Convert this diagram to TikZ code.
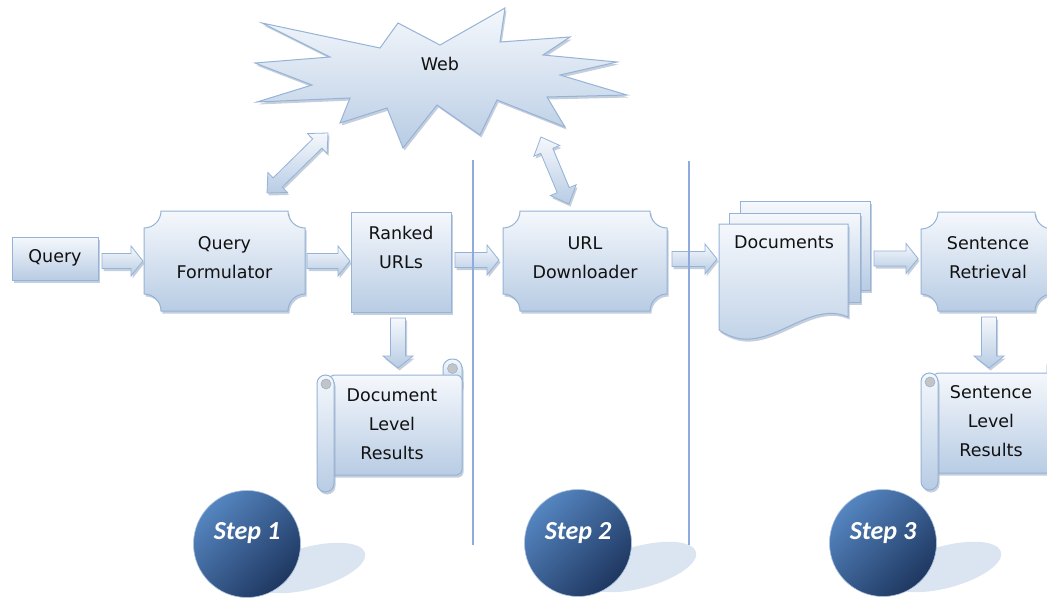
\documentclass[tikz,border=0pt]{standalone}
\usepackage{fontspec}
\setmainfont{DejaVu Sans}
\newfontfamily\stepfont{Carlito}
\usetikzlibrary{calc,shadows}
\definecolor{bxtop}{HTML}{F5F8FC}
\definecolor{bxbot}{HTML}{B8CCE4}
\definecolor{bxline}{HTML}{95B3D7}
\definecolor{shad}{HTML}{9FAEC3}
\definecolor{sepcol}{HTML}{8FAADC}
\definecolor{stepA}{HTML}{5585C0}
\definecolor{stepB}{HTML}{1E3760}
\definecolor{stepsh}{HTML}{DBE5F1}
\definecolor{curlcol}{HTML}{C4C4C4}
\definecolor{txt}{HTML}{111111}
\tikzset{
  frame/.style={rectangle, inner sep=0pt, outer sep=0pt},
  bshadow/.style={drop shadow={shadow xshift=1.5pt, shadow yshift=-2.5pt, fill=shad, opacity=.6}},
  fillbox/.style={draw=bxline, line width=1pt, top color=bxtop, bottom color=bxbot, bshadow},
  arrowbox/.style={draw=bxline, line width=.8pt, top color=bxtop, bottom color=bxbot, bshadow},
  curlst/.style={fill=curlcol, draw=bxline, line width=.6pt},
  lbl/.style={font=\fontsize{17.5}{29}\selectfont, align=center, inner sep=0pt, text=txt},
  ball/.style={circle, minimum size=107pt, inner sep=0pt, draw=stepA!50!white, line width=.6pt, top color=stepA, bottom color=stepB, shading angle=45},
  balllbl/.style={font=\stepfont\bfseries\itshape\fontsize{26}{30}\selectfont, text=white, inner sep=0pt},
  ballshadow/.style={fill=stepsh},
  sepline/.style={draw=sepcol, line width=1.1pt},
}
\newcommand\plaque[1]{%
  \path[fillbox] let \p1=(#1.north west), \p2=(#1.south east) in
    (\x1+17pt,\y1) -- (\x2-17pt,\y1) arc[start angle=180,end angle=270,radius=17pt]
    -- (\x2,\y2+17pt) arc[start angle=90,end angle=180,radius=17pt]
    -- (\x1+17pt,\y2) arc[start angle=0,end angle=90,radius=17pt]
    -- (\x1,\y1-17pt) arc[start angle=270,end angle=360,radius=17pt] -- cycle;}
\newcommand\blockarrow[2]{%
  \coordinate (bah) at ($(#2)!12pt!(#1)$);
  \path[arrowbox] ($(#1)!7.5pt!90:(#2)$) -- ($(bah)!7.5pt!90:(#2)$) -- ($(bah)!15pt!90:(#2)$)
    -- (#2) -- ($(bah)!15pt!-90:(#2)$) -- ($(bah)!7.5pt!-90:(#2)$) -- ($(#1)!7.5pt!-90:(#2)$) -- cycle;}
\newcommand\dblarrow[2]{%
  \coordinate (dha) at ($(#1)!15pt!(#2)$);
  \coordinate (dhb) at ($(#2)!15pt!(#1)$);
  \path[arrowbox] (#1) -- ($(dha)!14pt!90:(#2)$) -- ($(dha)!6.5pt!90:(#2)$)
    -- ($(dhb)!6.5pt!90:(#2)$) -- ($(dhb)!14pt!90:(#2)$) -- (#2)
    -- ($(dhb)!14pt!-90:(#2)$) -- ($(dhb)!6.5pt!-90:(#2)$)
    -- ($(dha)!6.5pt!-90:(#2)$) -- ($(dha)!14pt!-90:(#2)$) -- cycle;}
\newcommand\scrollshape[1]{%
  \begin{scope}[shift={(#1.north west)}]
    \path[fillbox, rounded corners=9pt] (126,0) rectangle (145,36);
    \path[fillbox, rounded corners=5pt] (12,16) rectangle (145,116);
    \path[fillbox, rounded corners=8.5pt] (0,16) rectangle (17,133);
    \path[curlst] (9,25) circle[radius=5pt];
    \path[curlst] (135.5,9.5) circle[radius=5pt];
  \end{scope}}
\begin{document}
\begin{tikzpicture}[x=1pt,y=-1pt]
\useasboundingbox (0,0) rectangle (1047,599);
\clip (0,0) rectangle (1047,599);
% frames
\node[frame, minimum width=86pt, minimum height=43pt] (q) at (55,258.5) {};
\node[frame, minimum width=161pt, minimum height=100pt] (qf) at (224.5,261) {};
\node[frame, minimum width=100pt, minimum height=100pt] (ru) at (401,262) {};
\node[frame, minimum width=164pt, minimum height=100pt] (ud) at (585,261) {};
\node[frame, minimum width=129pt, minimum height=106pt] (docs) at (783.5,277) {};
\node[frame, minimum width=131pt, minimum height=99pt] (sr) at (986.5,261.5) {};
\node[frame, minimum width=145pt, minimum height=133pt] (dlr) at (389.5,425.5) {};
\node[frame, minimum width=145pt, minimum height=133pt] (slr) at (993.5,423.5) {};
% web star
\path[fillbox] (262,23) -- (380,48) -- (398,23) -- (440,45) -- (505,8) -- (500,42) -- (570,37)
  -- (543,55) -- (617,62) -- (560,75) -- (627,95) -- (547,97) -- (565,127) -- (497,100)
  -- (480,135) -- (437,105) -- (403,148) -- (387,108) -- (340,123) -- (350,98) -- (257,102)
  -- (312,85) -- (255,63) -- (330,57) -- cycle;
% boxes
\path[fillbox] (q.north west) rectangle (q.south east);
\plaque{qf}
\path[fillbox] (ru.north west) rectangle (ru.south east);
\plaque{ud}
\begin{scope}[shift={(docs.north west)}]
  \path[fillbox] (21,-23) rectangle (151,66);
  \path[fillbox] (10,-11) rectangle (141,78);
  \path[fillbox] (0,0) -- (129,0) -- (129,93) .. controls (86,74) and (46,138) .. (0,106) -- cycle;
\end{scope}
\plaque{sr}
\scrollshape{dlr}
\scrollshape{slr}
% connector end points
\coordinate (a1s) at ($(q.east |- qf.west)+(4,0)$);
\coordinate (a1e) at ($(qf.west)+(-1,0)$);
\coordinate (a2s) at ($(qf.east)+(2,0)$);
\coordinate (a2e) at ($(qf.east -| ru.west)+(-1,0)$);
\coordinate (a3s) at ($(ru.east)+(4,-2)$);
\coordinate (a3e) at ($(ru.east -| ud.west)+(-4,-2)$);
\coordinate (a4s) at ($(ud.east)+(5,-2)$);
\coordinate (a4e) at ($(ud.east -| docs.west)+(-2,-2)$);
\coordinate (a5s) at ($(docs.east |- sr.west)+(26,-3)$);
\coordinate (a5e) at ($(sr.west)+(-3,-3)$);
\coordinate (a6s) at ($(ru.south)+(-3,6)$);
\coordinate (a6e) at ($(ru.south |- dlr.north)+(-3,9)$);
\coordinate (a7s) at ($(sr.south)+(2.5,6)$);
\coordinate (a7e) at ($(sr.south |- slr.north)+(2.5,11)$);
\coordinate (w1a) at (267,193);
\coordinate (w1b) at (328,133);
\coordinate (w2a) at (541,137);
\coordinate (w2b) at (569,204);
% connectors
\blockarrow{a1s}{a1e}
\blockarrow{a2s}{a2e}
\blockarrow{a3s}{a3e}
\blockarrow{a4s}{a4e}
\blockarrow{a5s}{a5e}
\blockarrow{a6s}{a6e}
\blockarrow{a7s}{a7e}
\dblarrow{w1a}{w1b}
\dblarrow{w2a}{w2b}
% steps
\coordinate (c1) at (247,544);
\coordinate (c2) at (578,543);
\coordinate (c3) at (883,543);
\coordinate (e1) at ($(c1)+(62,24)$);
\coordinate (e2) at ($(c2)+(62,24)$);
\coordinate (e3) at ($(c3)+(62,24)$);
\fill[ballshadow, rotate around={15:(e1)}] (e1) ellipse[x radius=58pt, y radius=21pt];
\fill[ballshadow, rotate around={15:(e2)}] (e2) ellipse[x radius=58pt, y radius=21pt];
\fill[ballshadow, rotate around={15:(e3)}] (e3) ellipse[x radius=58pt, y radius=21pt];
\node[ball] (s1) at (c1) {};
\node[ball] (s2) at (c2) {};
\node[ball] (s3) at (c3) {};
\node[balllbl] (s1t) at ($(s1)+(0,-11)$) {Step 1};
\node[balllbl] (s2t) at ($(s2)+(0,-10)$) {Step 2};
\node[balllbl] (s3t) at ($(s3)+(0,-10)$) {Step 3};
% texts
\node[lbl] (webt) at (440,64) {Web};
\node[lbl] (qt) at (55,258) {Query};
\node[lbl] (qft) at (224.5,257.5) {Query\\Formulator};
\node[lbl] (rut) at (401,247.5) {Ranked\\URLs};
\node[lbl] (udt) at (585,257.5) {URL\\Downloader};
\node[lbl] (doct) at (784,242) {Documents};
\node[lbl] (srt) at (988,257.5) {Sentence\\Retrieval};
\node[lbl] (dlrt) at (392,424) {Document\\Level\\Results};
\node[lbl] (slrt) at (991,421) {Sentence\\Level\\Results};
% separators
\draw[sepline] (473,160) -- (473,545);
\draw[sepline] (689,161) -- (689,545);
\end{tikzpicture}
\end{document}
